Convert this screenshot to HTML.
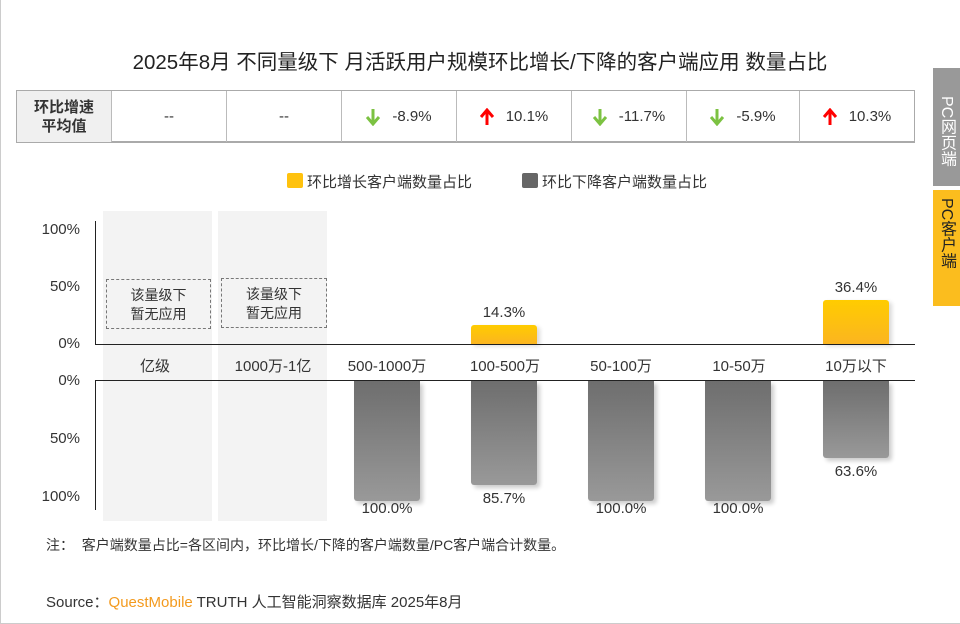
<!DOCTYPE html><html><head><meta charset="utf-8"><style>
*{margin:0;padding:0;box-sizing:border-box}
body{width:960px;height:624px;background:#fff;position:relative;overflow:hidden;font-family:"Liberation Sans","Noto Sans CJK SC",sans-serif;color:#333}
.a{position:absolute}
.t{font-size:15px;text-align:center;white-space:nowrap}
.cell{position:absolute;top:91px;height:51px;border-right:1px solid #bbb;display:flex;align-items:center;justify-content:center;font-size:15px;color:#333}
.gb{position:absolute;width:66px;background:linear-gradient(#6e6e6e,#999);border-radius:0 0 3px 3px;box-shadow:3px 3px 4px rgba(0,0,0,.2)}
.yb{position:absolute;width:66px;background:linear-gradient(#ffcc00,#fbb520);border-radius:3px 3px 0 0;box-shadow:3px 2px 4px rgba(0,0,0,.15)}
svg{margin-right:12px}
</style></head><body>
<div class="a" style="left:0;top:0;width:1px;height:624px;background:#ccc"></div>
<div class="a" style="left:0;top:623px;width:960px;height:1px;background:#ccc"></div>
<div class="a t" style="left:0;width:960px;top:45px;font-size:20.5px;color:#222">2025年8月 不同量级下 月活跃用户规模环比增长/下降的客户端应用 数量占比</div>
<div class="a" style="left:16px;top:90px;width:899px;height:53px;border:1px solid #aaa;border-bottom-width:2px"></div>
<div class="cell" style="left:17px;width:95px;background:#f0f0f0;font-weight:bold;line-height:19px;flex-direction:column">环比增速<span>平均值</span></div>
<div class="cell" style="left:112px;width:115px">--</div>
<div class="cell" style="left:227px;width:115px">--</div>
<div class="cell" style="left:342px;width:115px"><svg width="14" height="18"><path d="M7 1V15M1 9L7 16L13 9" stroke="#7cc242" stroke-width="3" fill="none"/></svg>-8.9%</div>
<div class="cell" style="left:457px;width:115px"><svg width="14" height="18"><path d="M7 17V3M1 9L7 2L13 9" stroke="#f00" stroke-width="3" fill="none"/></svg>10.1%</div>
<div class="cell" style="left:572px;width:115px"><svg width="14" height="18"><path d="M7 1V15M1 9L7 16L13 9" stroke="#7cc242" stroke-width="3" fill="none"/></svg>-11.7%</div>
<div class="cell" style="left:687px;width:113px"><svg width="14" height="18"><path d="M7 1V15M1 9L7 16L13 9" stroke="#7cc242" stroke-width="3" fill="none"/></svg>-5.9%</div>
<div class="cell" style="left:800px;width:114px;border-right:none"><svg width="14" height="18"><path d="M7 17V3M1 9L7 2L13 9" stroke="#f00" stroke-width="3" fill="none"/></svg>10.3%</div>
<div class="a" style="left:933px;top:68px;width:27px;height:118px;background:#999;color:#fff;font-size:16px;writing-mode:vertical-rl;text-align:center;line-height:27px;padding-top:8px">PC网页端</div>
<div class="a" style="left:933px;top:190px;width:27px;height:116px;background:#fbbd1e;color:#222;font-size:16px;writing-mode:vertical-rl;line-height:27px;padding-top:8px">PC客户端</div>
<div class="a" style="left:287px;top:173px;width:16px;height:15px;background:#ffc20e;border-radius:2px"></div>
<div class="a" style="left:307px;top:171px;font-size:15px">环比增长客户端数量占比</div>
<div class="a" style="left:522px;top:173px;width:16px;height:15px;background:#666;border-radius:2px"></div>
<div class="a" style="left:542px;top:171px;font-size:15px">环比下降客户端数量占比</div>
<div class="a" style="left:103px;top:211px;width:109px;height:310px;background:#f3f3f3"></div>
<div class="a" style="left:218px;top:211px;width:109px;height:310px;background:#f3f3f3"></div>
<div class="a" style="left:95px;top:221px;width:1px;height:124px;background:#222"></div>
<div class="a" style="left:95px;top:344px;width:820px;height:1px;background:#222"></div>
<div class="a" style="left:95px;top:380px;width:820px;height:1px;background:#222"></div>
<div class="a" style="left:95px;top:380px;width:1px;height:130px;background:#222"></div>
<div class="a t" style="left:30px;top:221px;width:50px;text-align:right">100%</div>
<div class="a t" style="left:30px;top:278px;width:50px;text-align:right">50%</div>
<div class="a t" style="left:30px;top:335px;width:50px;text-align:right">0%</div>
<div class="a t" style="left:30px;top:372px;width:50px;text-align:right">0%</div>
<div class="a t" style="left:30px;top:430px;width:50px;text-align:right">50%</div>
<div class="a t" style="left:30px;top:488px;width:50px;text-align:right">100%</div>
<div class="a" style="left:106px;top:279px;width:105px;height:50px;border:1px dashed #777;font-size:14px;text-align:center;line-height:19px;padding-top:6px">该量级下<br>暂无应用</div>
<div class="a" style="left:221px;top:278px;width:106px;height:50px;border:1px dashed #777;font-size:14px;text-align:center;line-height:19px;padding-top:6px">该量级下<br>暂无应用</div>
<div class="a t" style="left:105px;width:100px;top:355px">亿级</div>
<div class="a t" style="left:223px;width:100px;top:355px">1000万-1亿</div>
<div class="a t" style="left:337px;width:100px;top:355px">500-1000万</div>
<div class="a t" style="left:455px;width:100px;top:355px">100-500万</div>
<div class="a t" style="left:571px;width:100px;top:355px">50-100万</div>
<div class="a t" style="left:689px;width:100px;top:355px">10-50万</div>
<div class="a t" style="left:806px;width:100px;top:355px">10万以下</div>
<div class="yb" style="left:471px;top:325px;height:19px"></div>
<div class="a t" style="left:454px;width:100px;top:304px">14.3%</div>
<div class="yb" style="left:823px;top:300px;height:44px"></div>
<div class="a t" style="left:806px;width:100px;top:279px">36.4%</div>
<div class="gb" style="left:354px;top:381px;height:120px"></div>
<div class="gb" style="left:471px;top:381px;height:104px"></div>
<div class="gb" style="left:588px;top:381px;height:120px"></div>
<div class="gb" style="left:705px;top:381px;height:120px"></div>
<div class="gb" style="left:823px;top:381px;height:77px"></div>
<div class="a t" style="left:337px;width:100px;top:500px">100.0%</div>
<div class="a t" style="left:454px;width:100px;top:490px">85.7%</div>
<div class="a t" style="left:571px;width:100px;top:500px">100.0%</div>
<div class="a t" style="left:688px;width:100px;top:500px">100.0%</div>
<div class="a t" style="left:806px;width:100px;top:463px">63.6%</div>
<div class="a" style="left:46px;top:535px;font-size:14px">注：&nbsp;&nbsp;客户端数量占比=各区间内，环比增长/下降的客户端数量/PC客户端合计数量。</div>
<div class="a" style="left:46px;top:591px;font-size:15px">Source：<span style="color:#f39a1e">QuestMobile</span> TRUTH 人工智能洞察数据库 2025年8月</div>
</body></html>
